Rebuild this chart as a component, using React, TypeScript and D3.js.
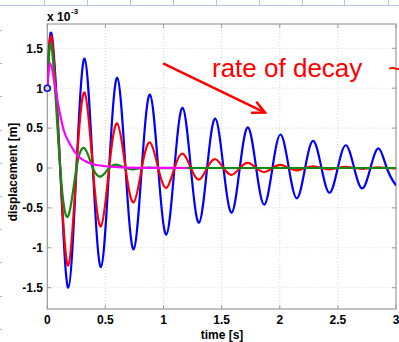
import React from "react";
import * as d3 from "d3";

// ---- data (displacement in units of 1e-3 m) ----
const timeOsc = [0, 0.04, 0.111, 0.181, 0.251, 0.321, 0.392, 0.462, 0.532, 0.602, 0.673, 0.743, 0.813, 0.883, 0.954, 1.024, 1.094, 1.164, 1.235, 1.305, 1.375, 1.445, 1.516, 1.586, 1.656, 1.726, 1.797, 1.867, 1.937, 2.007, 2.078, 2.148, 2.218, 2.288, 2.359, 2.429, 2.499, 2.569, 2.64, 2.71, 2.78, 2.85, 2.921, 2.991, 3.0];
const blueVals = [1.0, 1.66, 0, -1.5, 0, 1.37, 0, -1.24, 0, 1.13, 0, -1.02, 0, 0.92, 0, -0.835, 0, 0.755, 0, -0.685, 0, 0.62, 0, -0.56, 0, 0.51, 0, -0.46, 0, 0.42, 0, -0.38, 0, 0.34, 0, -0.31, 0, 0.285, 0, -0.255, 0, 0.245, 0, -0.2, -0.199];
const redVals = [1.0, 1.61, 0, -1.22, 0, 0.945, 0, -0.73, 0, 0.557, 0, -0.43, 0, 0.32, 0, -0.25, 0, 0.18, 0, -0.146, 0, 0.11, 0, -0.085, 0, 0.065, 0, -0.05, 0, 0.038, 0, -0.029, 0, 0.022, 0, -0.017, 0, 0.013, 0, -0.01, 0, 0.0075, 0, -0.006, -0.006];
const greenVals = [1.0, 1.49, 0, -0.6, 0, 0.245, 0, -0.105, 0, 0.04, 0, -0.016, 0, 0.006, 0, -0.0025, 0, 0, 0, 0, 0, 0, 0, 0, 0, 0, 0, 0, 0, 0, 0, 0, 0, 0, 0, 0, 0, 0, 0, 0, 0, 0, 0, 0, 0];
const timeMag = [0, 0.025, 0.066, 0.097, 0.14, 0.198, 0.27, 0.356, 0.485, 0.65, 0.85, 1.2];
const magVals = [1.0, 1.31, 1.03, 0.77, 0.48, 0.29, 0.14, 0.067, 0.025, 0.008, 0.002, 0];

const xTicks = [0, 0.5, 1, 1.5, 2, 2.5, 3];
const xTickLabels = ["0", "0.5", "1", "1.5", "2", "2.5", "3"];
const yTicks = [-1.5, -1, -0.5, 0, 0.5, 1, 1.5];
const yTickLabels = ["-1.5", "-1", "-0.5", "0", "0.5", "1", "1.5"];

const annotationText = "rate of decay";
const arrowFrom = [0.996, 1.31];
const arrowTo = [1.873, 0.694];
const textAt = [1.417, 1.139];

// ---- layout ----
const W = 399;
const H = 342;
const left = 47.3;
const right = 396;
const top = 24;
const bottom = 309;

const FONT = "'Liberation Sans', Arial, sans-serif";

export default function App() {
  const x = d3.scaleLinear().domain([0, 3]).range([left, right]);
  const y = d3.scaleLinear().domain([-1.5, 1.5]).range([287.7, 48.3]);

  const natLine = d3
    .line<number>()
    .x((_, i) => x(timeOsc[i]))
    .y((d) => y(d))
    .curve(d3.curveNatural);
  const magLine = d3
    .line<number>()
    .x((_, i) => x(timeMag[i]))
    .y((d) => y(d))
    .curve(d3.curveMonotoneX);

  const series = [
    { vals: blueVals, color: "#0000ff" },
    { vals: redVals, color: "#ff0000" },
    { vals: greenVals, color: "#118a11" },
  ];

  const sheetCols = [44, 87, 130, 173, 216, 259, 302, 344, 388];
  const sheetRows = [30, 63, 96, 130, 163, 196, 229, 262, 296, 329];

  const ax0 = x(arrowFrom[0]);
  const ay0 = y(arrowFrom[1]);
  const ax1 = x(arrowTo[0]);
  const ay1 = y(arrowTo[1]);
  const ang = Math.atan2(ay1 - ay0, ax1 - ax0);
  const hl = 14;
  const spread = 0.45;
  const b1 = [ax1 - hl * Math.cos(ang - spread), ay1 - hl * Math.sin(ang - spread)];
  const b2 = [ax1 - hl * Math.cos(ang + spread), ay1 - hl * Math.sin(ang + spread)];

  return (
    <svg
      width={W}
      height={H}
      style={{ position: "absolute", left: 0, top: 0, background: "#fff" }}
      fontFamily={FONT}
    >
      <defs>
        <clipPath id="plotClip">
          <rect x={left} y={top} width={right - left} height={bottom - top} />
        </clipPath>
      </defs>
      <rect x={0} y={0} width={W} height={H} fill="#fff" />
      {/* spreadsheet background remnants */}
      <line x1={0} x2={W} y1={5.5} y2={5.5} stroke="#b4c6e0" strokeWidth={1} />
      {sheetCols.map((c) => (
        <line key={"c" + c} x1={c + 0.5} x2={c + 0.5} y1={0} y2={5.5} stroke="#b4c6e0" strokeWidth={1} />
      ))}
      {sheetRows.map((r) => (
        <line key={"r" + r} x1={0} x2={2} y1={r + 0.5} y2={r + 0.5} stroke="#9fb6da" strokeWidth={1} />
      ))}

      {/* grid */}
      {xTicks.slice(1, -1).map((t) => (
        <line key={"gx" + t} x1={x(t)} x2={x(t)} y1={top} y2={bottom} stroke="#d6d6d6" strokeWidth={1} strokeDasharray="1,2" />
      ))}
      {yTicks.map((t) => (
        <line key={"gy" + t} x1={left} x2={right} y1={y(t)} y2={y(t)} stroke="#d6d6d6" strokeWidth={1} strokeDasharray="1,2" />
      ))}

      {/* axes box */}
      <rect x={left} y={top} width={right - left} height={bottom - top} fill="none" stroke="#9a9a9a" strokeWidth={1.2} />
      {xTicks.map((t) => (
        <g key={"tx" + t}>
          <line x1={x(t)} x2={x(t)} y1={bottom} y2={bottom - 4} stroke="#9a9a9a" />
          <line x1={x(t)} x2={x(t)} y1={top} y2={top + 4} stroke="#9a9a9a" />
        </g>
      ))}
      {yTicks.map((t) => (
        <g key={"ty" + t}>
          <line x1={left} x2={left + 4} y1={y(t)} y2={y(t)} stroke="#9a9a9a" />
          <line x1={right} x2={right - 4} y1={y(t)} y2={y(t)} stroke="#9a9a9a" />
        </g>
      ))}

      {/* curves */}
      <g clipPath="url(#plotClip)" fill="none" strokeLinejoin="round" strokeLinecap="round">
        {series.map((s, i) => (
          <path key={i} d={natLine(s.vals) || ""} stroke={s.color} strokeWidth={2.2} />
        ))}
        <path d={magLine(magVals) || ""} stroke="#ff00ff" strokeWidth={2.2} />
      </g>
      <circle cx={x(timeOsc[0])} cy={y(blueVals[0])} r={3} fill="#e2dc8c" stroke="#0000ff" strokeWidth={1.5} />

      {/* tick labels */}
      {yTicks.map((t, i) => (
        <text key={"ly" + t} x={43} y={y(t) + 4.3} textAnchor="end" fontSize={12} fontWeight="bold" fill="#000">
          {yTickLabels[i]}
        </text>
      ))}
      {xTicks.map((t, i) => (
        <text key={"lx" + t} x={x(t)} y={324} textAnchor="middle" fontSize={12} fontWeight="bold" fill="#000">
          {xTickLabels[i]}
        </text>
      ))}
      <text x={222} y={338.5} textAnchor="middle" fontSize={12} fontWeight="bold" fill="#000">
        time [s]
      </text>
      <text
        transform={`translate(17,172) rotate(-90)`}
        textAnchor="middle"
        fontSize={12}
        fontWeight="bold"
        fill="#000"
      >
        displacement [m]
      </text>
      <text x={47} y={20.5} fontSize={12} fontWeight="bold" fill="#000">
        x 10
      </text>
      <text x={71} y={13.5} fontSize={8} fontWeight="bold" fill="#000">
        -3
      </text>

      {/* annotation */}
      <line x1={ax0} y1={ay0} x2={ax1} y2={ay1} stroke="#ff0000" strokeWidth={2.5} />
      <polyline
        points={`${b1[0]},${b1[1]} ${ax1},${ay1} ${b2[0]},${b2[1]}`}
        fill="none"
        stroke="#ff0000"
        strokeWidth={2.5}
      />
      <text x={x(textAt[0])} y={y(textAt[1])} fontSize={26} fill="#ff0000">
        {annotationText}
      </text>
      <text x={388} y={y(textAt[1])} fontSize={26} fill="#ff0000">
        ~
      </text>
    </svg>
  );
}
